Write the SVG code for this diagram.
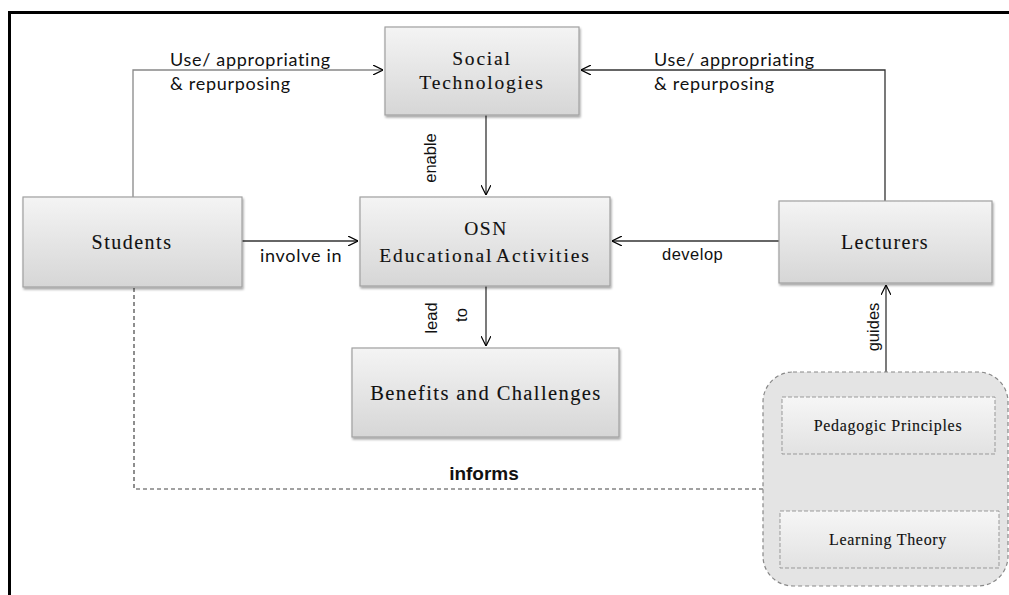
<svg xmlns="http://www.w3.org/2000/svg" width="1009" height="595" viewBox="0 0 1009 595">
<defs>
<linearGradient id="boxg" x1="0" y1="0" x2="0" y2="1">
<stop offset="0" stop-color="#f4f4f4"/>
<stop offset="1" stop-color="#d6d6d6"/>
</linearGradient>
<linearGradient id="innerg" x1="0" y1="0" x2="0" y2="1">
<stop offset="0" stop-color="#f6f6f6"/>
<stop offset="1" stop-color="#e2e2e2"/>
</linearGradient>
<filter id="sh" x="-10%" y="-10%" width="120%" height="130%">
<feDropShadow dx="1" dy="2" stdDeviation="1.2" flood-color="#000" flood-opacity="0.35"/>
</filter>
<marker id="arr" viewBox="0 0 10 10" refX="10" refY="5" markerWidth="10" markerHeight="10" markerUnits="userSpaceOnUse" orient="auto">
<path d="M0,0 L10,5 L0,10" fill="none" stroke="#000" stroke-width="1.2"/>
</marker>
</defs>
<style>
.box{fill:url(#boxg);stroke:#a0a0a0;stroke-width:1.2;filter:url(#sh)}
.inner{fill:url(#innerg);stroke:#999;stroke-width:1;stroke-dasharray:4 2}
.node{font-family:"Liberation Serif",serif;fill:#111;text-anchor:middle;stroke:#111;stroke-width:0.12}
.lbl{font-family:Lato,"Liberation Sans",sans-serif;font-size:18px;letter-spacing:0.7px;fill:#111}
.ar{font-family:"Liberation Sans",Arial,sans-serif;font-size:16.5px;fill:#111}
.c{fill:none;stroke:#333;stroke-width:1.3}
.cg{fill:none;stroke:#888;stroke-width:1.3}
.d{fill:none;stroke:#444;stroke-width:1.2;stroke-dasharray:4 3}
</style>
<rect x="0" y="0" width="1009" height="595" fill="#fff"/>
<path d="M9.5,595 V12.5 H1009" fill="none" stroke="#000" stroke-width="3"/>

<g id="connectors">
<path class="cg" d="M133,197 V70 H383" marker-end="url(#arr)"/>
<path class="c" d="M885,201 V70 H581" marker-end="url(#arr)"/>
<path class="c" d="M486,115 V195" marker-end="url(#arr)"/>
<path class="c" d="M242,241 H358" marker-end="url(#arr)"/>
<path class="c" d="M779,241 H612" marker-end="url(#arr)"/>
<path class="c" d="M486,286 V346" marker-end="url(#arr)"/>
<path class="c" d="M886,372 V285" marker-end="url(#arr)"/>
<path class="d" d="M134,288 V489 H763"/>
<path class="d" d="M882,511 V456" marker-end="url(#arr)"/>
<text class="lbl" x="170" y="66">Use/ appropriating</text>
<text class="lbl" x="170" y="90">&amp; repurposing</text>
<text class="lbl" x="654" y="66">Use/ appropriating</text>
<text class="lbl" x="654" y="90">&amp; repurposing</text>
<text class="ar" transform="translate(436,158) rotate(-90)" text-anchor="middle">enable</text>
<text class="lbl" x="260" y="262" letter-spacing="0.4">involve in</text>
<text class="ar" x="662" y="260" font-size="18.5" letter-spacing="0.5">develop</text>
<text class="ar" transform="translate(437,318) rotate(-90)" text-anchor="middle">lead</text>
<text class="ar" transform="translate(467,315) rotate(-90)" text-anchor="middle">to</text>
<text class="ar" transform="translate(879,327) rotate(-90)" text-anchor="middle" font-size="17.5">guides</text>
<text class="ar" transform="translate(875,484) rotate(-90)" text-anchor="middle" font-size="14.3" font-style="italic">guides</text>
<text x="484" y="480" font-family="'Liberation Sans',Arial,sans-serif" font-weight="bold" font-size="19" text-anchor="middle" fill="#111">informs</text>
</g>

<g id="social">
<rect class="box" x="385" y="27" width="194" height="88"/>
<text class="node" x="482" y="65" font-size="19.5" letter-spacing="1.8">Social</text>
<text class="node" x="482" y="89" font-size="19.5" letter-spacing="1.8">Technologies</text>
</g>
<g id="students">
<rect class="box" x="23" y="197" width="219" height="90"/>
<text class="node" x="132" y="249" font-size="20" letter-spacing="1.5">Students</text>
</g>
<g id="osn">
<rect class="box" x="360" y="197" width="250" height="89"/>
<text class="node" x="486" y="235" font-size="19.5" letter-spacing="1.5">OSN</text>
<text class="node" x="485" y="262" font-size="19.5" letter-spacing="1.9" word-spacing="-3">Educational Activities</text>
</g>
<g id="lecturers">
<rect class="box" x="779" y="201" width="213" height="82"/>
<text class="node" x="885" y="249" font-size="20" letter-spacing="1.4">Lecturers</text>
</g>
<g id="benefits">
<rect class="box" x="352" y="348" width="267" height="89"/>
<text class="node" x="486" y="400" font-size="20.5" letter-spacing="1.4" stroke-width="0.4">Benefits and Challenges</text>
</g>
<g id="theory-group">
<rect x="763" y="372" width="245" height="214" rx="30" ry="30" fill="#e4e4e4" stroke="#888" stroke-width="1.2" stroke-dasharray="4 3"/>
</g>
<g id="pedagogic">
<rect class="inner" x="782" y="397" width="213" height="57"/>
<text class="node" x="888" y="431" font-size="16" letter-spacing="0.7" stroke-width="0">Pedagogic Principles</text>
</g>
<g id="learning">
<rect class="inner" x="780" y="511" width="219" height="57"/>
<text class="node" x="888" y="545" font-size="16" letter-spacing="0.7" stroke-width="0">Learning Theory</text>
</g>
</svg>
